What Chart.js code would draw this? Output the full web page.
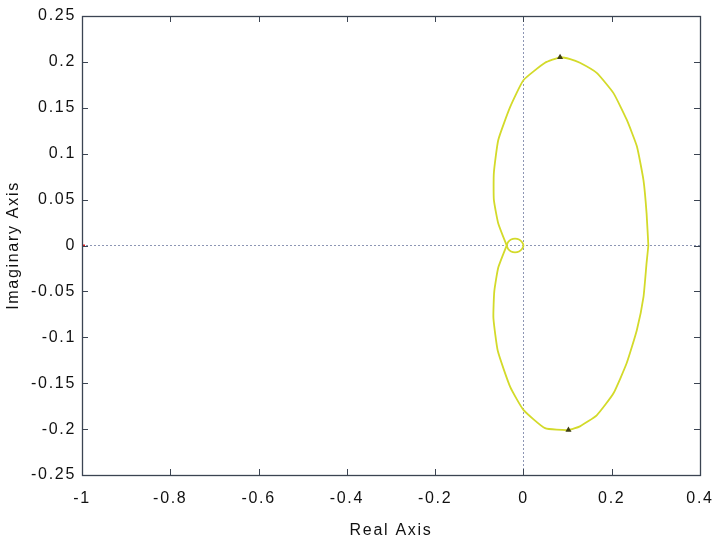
<!DOCTYPE html>
<html>
<head>
<meta charset="utf-8">
<script src="https://cdn.jsdelivr.net/npm/chart.js@4/dist/chart.umd.min.js"></script>
<style>
html,body{margin:0;padding:0;background:#fff;overflow:hidden;}
#wrap{width:712px;height:544px;}
</style>
</head>
<body>
<div id="wrap"><canvas id="c"></canvas></div>
<script>
// Nyquist curve (continuous path)
const realPart = [0.283, 0.279, 0.272, 0.257, 0.234, 0.204, 0.166, 0.128, 0.106, 0.083, 0.049, 0.000, -0.030, -0.057, -0.067, -0.067, -0.057, -0.038,
  -0.035, -0.028, -0.019, -0.010, -0.003, 0.000, -0.003, -0.010, -0.019, -0.028, -0.035, -0.038,
  -0.057, -0.066, -0.068, -0.058, -0.030, 0.000, 0.049, 0.102, 0.128, 0.166, 0.204, 0.234, 0.257, 0.272, 0.279, 0.283];
const imagPart = [0.000, 0.035, 0.071, 0.108, 0.137, 0.166, 0.188, 0.199, 0.203, 0.205, 0.199, 0.180, 0.151, 0.115, 0.079, 0.050, 0.024, 0.000,
  -0.0035, -0.0065, -0.0075, -0.0065, -0.0035, 0.000, 0.0035, 0.0065, 0.0075, 0.0065, 0.0035, 0.000,
  -0.024, -0.050, -0.079, -0.115, -0.154, -0.179, -0.199, -0.201, -0.197, -0.185, -0.161, -0.128, -0.092, -0.056, -0.019, 0.000];
// direction arrows
const arrowReal = [0.083, 0.102];
const arrowImag = [0.205, -0.201];
// critical point
const critReal = [-1];
const critImag = [0];
// ticks
const xTicks = [-1, -0.8, -0.6, -0.4, -0.2, 0, 0.2, 0.4];
const yTicks = [0.25, 0.2, 0.15, 0.1, 0.05, 0, -0.05, -0.1, -0.15, -0.2, -0.25];

const curve = realPart.map((x, i) => ({x: x, y: imagPart[i]}));
const arrows = arrowReal.map((x, i) => ({x: x, y: arrowImag[i]}));
const crit = critReal.map((x, i) => ({x: x, y: critImag[i]}));

const fmt = v => String(Math.round(v * 100) / 100);
const SPACING = '1.7px';

const spacing = {
  id: 'spacing',
  beforeLayout(chart) { chart.ctx.letterSpacing = SPACING; },
  beforeDraw(chart) { chart.ctx.letterSpacing = SPACING; }
};

const boxTicks = {
  id: 'boxTicks',
  afterDraw(chart) {
    const ctx = chart.ctx, a = chart.chartArea;
    const xs = chart.scales.x, ys = chart.scales.y;
    ctx.save();
    ctx.strokeStyle = '#3b4452';
    ctx.lineWidth = 1;
    ctx.beginPath();
    xTicks.forEach(v => {
      const p = Math.round(xs.getPixelForValue(v)) + 0.5;
      ctx.moveTo(p, a.bottom); ctx.lineTo(p, a.bottom - 6);
      ctx.moveTo(p, a.top); ctx.lineTo(p, a.top + 6);
    });
    yTicks.forEach(v => {
      const p = Math.round(ys.getPixelForValue(v)) + 0.5;
      ctx.moveTo(a.left, p); ctx.lineTo(a.left + 6, p);
      ctx.moveTo(a.right, p); ctx.lineTo(a.right - 6, p);
    });
    ctx.stroke();
    ctx.lineWidth = 1.3;
    ctx.strokeRect(Math.round(a.left) + 0.5, Math.round(a.top) + 0.5, Math.round(a.right - a.left), Math.round(a.bottom - a.top));
    ctx.restore();
  }
};

new Chart(document.getElementById('c'), {
  type: 'scatter',
  data: {
    datasets: [
      {data: curve, showLine: true, borderColor: '#d3da2a', borderWidth: 1.8, pointRadius: 0, fill: false, tension: 0.15, order: 2},
      {data: arrows, pointStyle: 'triangle', pointRadius: 3.5, backgroundColor: '#3d3d12', borderColor: '#3d3d12', borderWidth: 0, order: 1},
      {data: crit, pointStyle: 'line', pointRadius: 3, borderColor: '#e02020', borderWidth: 2, order: 1}
    ]
  },
  options: {
    responsive: true,
    maintainAspectRatio: false,
    animation: false,
    devicePixelRatio: 1,
    layout: {padding: {top: 16, right: 12, left: 0, bottom: 0}},
    plugins: {legend: {display: false}, tooltip: {enabled: false}},
    scales: {
      x: {
        type: 'linear', min: -1, max: 0.4,
        afterBuildTicks: s => { s.ticks = xTicks.map(v => ({value: v})); },
        afterFit: s => { s.height = 69; s.paddingRight = 0; s.paddingLeft = 0; },
        grid: {
          drawTicks: false,
          color: c => (c.tick && c.tick.value === 0) ? '#8d96b4' : 'rgba(0,0,0,0)',
          lineWidth: 1
        },
        border: {display: false, dash: [2, 2]},
        ticks: {padding: 14, color: '#111', font: {family: 'Liberation Sans, Arial', size: 16}, callback: v => fmt(v), maxRotation: 0, autoSkip: false},
        title: {display: true, text: 'Real Axis', color: '#111', font: {family: 'Liberation Sans, Arial', size: 16}, padding: {top: 6}}
      },
      y: {
        type: 'linear', min: -0.25, max: 0.25,
        afterBuildTicks: s => { s.ticks = yTicks.map(v => ({value: v})); },
        afterFit: s => { s.width = 82; s.paddingTop = 0; s.paddingBottom = 0; },
        grid: {
          drawTicks: false,
          color: c => (c.tick && c.tick.value === 0) ? '#8d96b4' : 'rgba(0,0,0,0)',
          lineWidth: 1
        },
        border: {display: false, dash: [2, 2]},
        ticks: {padding: 6, color: '#111', font: {family: 'Liberation Sans, Arial', size: 16}, callback: v => fmt(v), autoSkip: false},
        title: {display: true, text: 'Imaginary Axis', color: '#111', font: {family: 'Liberation Sans, Arial', size: 16}, padding: {bottom: 4}}
      }
    }
  },
  plugins: [spacing, boxTicks]
});
</script>
</body>
</html>
